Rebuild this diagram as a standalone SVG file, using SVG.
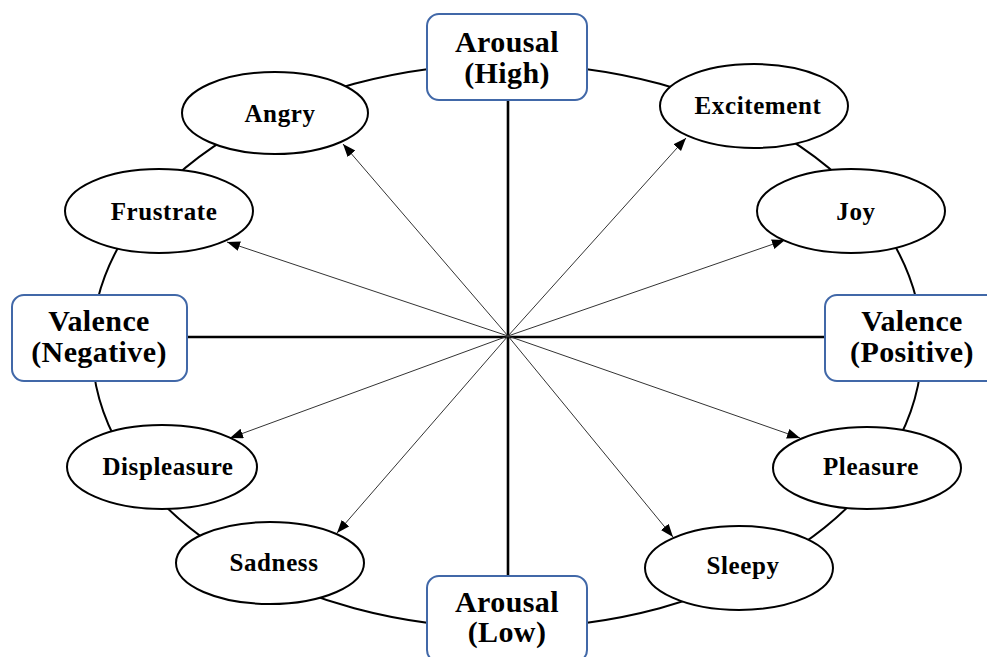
<svg xmlns="http://www.w3.org/2000/svg" width="987" height="657" viewBox="0 0 987 657">
<style>
.ring{fill:none;stroke:#000;stroke-width:2}
.axis{stroke:#000;stroke-width:2.6}
.arrow{stroke:#333;stroke-width:1;fill:none}
.node ellipse{fill:#fff;stroke:#000;stroke-width:2}
.box rect{fill:#fff;stroke:#4168a8;stroke-width:2}
.nt{font-family:"Liberation Serif","Times New Roman",serif;font-weight:bold;font-size:25px;letter-spacing:0.6px;text-anchor:middle;fill:#000}
.bt{font-family:"Liberation Serif","Times New Roman",serif;font-weight:bold;font-size:30px;letter-spacing:0.4px;text-anchor:middle;fill:#000}
</style>
<defs>
<marker id="ah" markerUnits="userSpaceOnUse" markerWidth="14" markerHeight="11" refX="13" refY="5" orient="auto">
<path d="M0,0 L13,5 L0,10 z" fill="#000"/>
</marker>
</defs>
<ellipse class="ring" cx="507" cy="346" rx="415" ry="282"/>
<g id="connectors">
<line class="axis" x1="508" y1="100" x2="508" y2="576"/>
<line class="axis" x1="187" y1="337" x2="825" y2="337"/>
<line class="arrow" x1="508" y1="336" x2="343" y2="144" marker-end="url(#ah)"/>
<line class="arrow" x1="508" y1="336" x2="227" y2="242" marker-end="url(#ah)"/>
<line class="arrow" x1="508" y1="336" x2="686" y2="138" marker-end="url(#ah)"/>
<line class="arrow" x1="508" y1="336" x2="785" y2="240" marker-end="url(#ah)"/>
<line class="arrow" x1="508" y1="336" x2="230" y2="438" marker-end="url(#ah)"/>
<line class="arrow" x1="508" y1="336" x2="800" y2="438" marker-end="url(#ah)"/>
<line class="arrow" x1="508" y1="336" x2="337" y2="533" marker-end="url(#ah)"/>
<line class="arrow" x1="508" y1="336" x2="673" y2="537" marker-end="url(#ah)"/>
</g>
<g id="angry" class="node"><ellipse cx="275" cy="113" rx="93" ry="41"/><text class="nt" x="280" y="122">Angry</text></g>
<g id="frustrate" class="node"><ellipse cx="159" cy="211" rx="94" ry="42"/><text class="nt" x="164" y="220">Frustrate</text></g>
<g id="excitement" class="node"><ellipse cx="754" cy="106" rx="94" ry="42"/><text class="nt" x="758" y="114">Excitement</text></g>
<g id="joy" class="node"><ellipse cx="851" cy="211" rx="94" ry="42"/><text class="nt" x="856" y="220">Joy</text></g>
<g id="displeasure" class="node"><ellipse cx="162" cy="467" rx="95" ry="42"/><text class="nt" x="168" y="475">Displeasure</text></g>
<g id="pleasure" class="node"><ellipse cx="867" cy="468" rx="94" ry="41"/><text class="nt" x="871" y="475">Pleasure</text></g>
<g id="sadness" class="node"><ellipse cx="270" cy="563" rx="94" ry="41"/><text class="nt" x="274" y="571">Sadness</text></g>
<g id="sleepy" class="node"><ellipse cx="739" cy="568" rx="94" ry="42"/><text class="nt" x="743" y="574">Sleepy</text></g>
<g id="arousal-high" class="box"><rect x="427" y="14" width="160" height="86" rx="12"/><text class="bt" x="507" y="52">Arousal</text><text class="bt" x="507" y="83">(High)</text></g>
<g id="valence-negative" class="box"><rect x="12" y="295" width="175" height="86" rx="12"/><text class="bt" x="99" y="331">Valence</text><text class="bt" x="99" y="362">(Negative)</text></g>
<g id="valence-positive" class="box"><rect x="825" y="295" width="175" height="86" rx="12"/><text class="bt" x="912" y="331">Valence</text><text class="bt" x="912" y="362">(Positive)</text></g>
<g id="arousal-low" class="box"><rect x="427" y="576" width="160" height="86" rx="12"/><text class="bt" x="507" y="612">Arousal</text><text class="bt" x="507" y="642">(Low)</text></g>
</svg>
